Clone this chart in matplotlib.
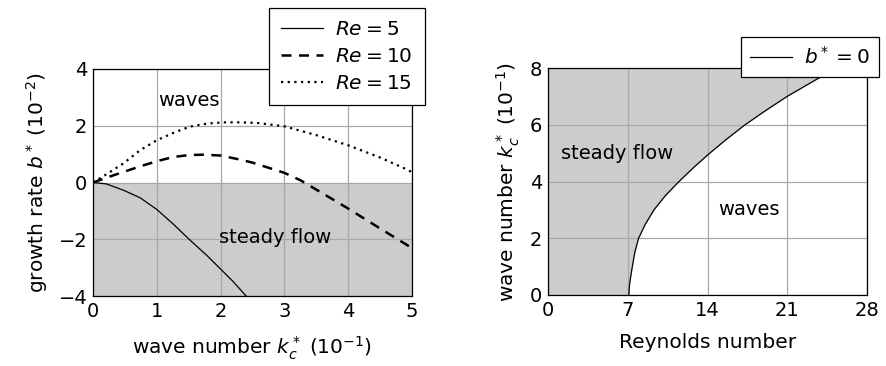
import matplotlib
matplotlib.use("Agg")
import matplotlib.pyplot as plt

# left panel: growth rate vs wave number
k_re5 = [0.0, 0.21, 0.475, 0.74, 1.0, 1.26, 1.52, 1.78, 2.0, 2.2, 2.4]
b_re5 = [0.0, -0.05, -0.27, -0.54, -0.95, -1.47, -2.03, -2.56, -3.05, -3.5, -4.0]
k_re10 = [0.0, 0.21, 0.475, 0.74, 1.0, 1.26, 1.52, 1.75, 2.0, 2.3, 2.5,
          3.0, 3.25, 3.5, 4.0, 4.5, 4.92, 5.0]
b_re10 = [0.0, 0.17, 0.37, 0.57, 0.75, 0.9, 0.97, 0.98, 0.95, 0.81, 0.7,
          0.34, 0.08, -0.25, -0.92, -1.62, -2.2, -2.32]
k_re15 = [0.0, 0.21, 0.475, 0.74, 1.0, 1.26, 1.52, 1.8, 2.05, 2.3, 2.57,
          3.0, 3.5, 4.0, 4.5, 4.92, 5.0]
b_re15 = [0.0, 0.29, 0.67, 1.14, 1.49, 1.75, 1.97, 2.08, 2.12, 2.12, 2.1,
          1.98, 1.67, 1.31, 0.88, 0.46, 0.36]

# right panel: neutral curve b* = 0
re_curve = [7.1, 7.13, 7.2, 7.4, 7.62, 7.95, 8.55, 9.3, 10.3, 11.5, 12.8,
            14.2, 15.7, 17.3, 19.1, 21.0, 24.0]
k_curve = [0.0, 0.25, 0.5, 1.0, 1.5, 2.0, 2.5, 3.0, 3.5, 4.0, 4.5,
           5.0, 5.5, 6.0, 6.5, 7.0, 7.7]

plt.rcParams["font.family"] = "DejaVu Sans"
plt.rcParams["mathtext.fontset"] = "dejavusans"
plt.rcParams["font.size"] = 14.5

grey = "#cccccc"
gridc = "#a8a8a8"

fig = plt.figure(figsize=(8.86, 3.66), dpi=100)
W, H = 886, 366
ax1 = fig.add_axes([93 / W, 1 - 296 / H, (412 - 93) / W, (296 - 69) / H])
ax2 = fig.add_axes([548 / W, 1 - 295 / H, (867 - 548) / W, (295 - 68) / H])

# left
ax1.axhspan(-4, 0, color=grey, zorder=0, lw=0)
ax1.plot(k_re5, b_re5, color="black", lw=0.9, label="$Re = 5$", zorder=3)
ax1.plot(k_re10, b_re10, color="black", lw=1.8, ls=(0, (4, 3)), label="$Re = 10$", zorder=3)
ax1.plot(k_re15, b_re15, color="black", lw=1.6, ls=(0, (1, 2)), label="$Re = 15$", zorder=3)
ax1.set_xlim(0, 5)
ax1.set_ylim(-4, 4)
ax1.set_xticks(range(0, 6))
ax1.set_yticks([-4, -2, 0, 2, 4])
ax1.set_yticklabels(["\u22124", "\u22122", "0", "2", "4"])
ax1.set_xlabel("wave number $k_c^*$ $(10^{-1})$", labelpad=10)
ax1.set_ylabel("growth rate $b^*$ $(10^{-2})$", labelpad=6)
ax1.text(1.5, 2.9, "waves", ha="center", va="center", fontsize=14)
ax1.text(2.85, -1.95, "steady flow", ha="center", va="center", fontsize=14)
leg1 = ax1.legend(loc="upper left", bbox_to_anchor=((269 - 93) / 319, (296 - 8) / 227),
                  frameon=True, fancybox=False, edgecolor="black", framealpha=1,
                  handlelength=2.1, handletextpad=0.6, borderpad=0.6,
                  labelspacing=0.4, borderaxespad=0, fontsize=14.5)
leg1.get_frame().set_linewidth(0.9)

# right
ax2.fill_betweenx(k_curve, 0, re_curve, color=grey, zorder=0, lw=0)
ax2.fill_between([0, 28], 7.7, 8, color=grey, zorder=0, lw=0)
ax2.plot(re_curve, k_curve, color="black", lw=0.9, label="$b^* = 0$", zorder=3)
ax2.set_xlim(0, 28)
ax2.set_ylim(0, 8)
ax2.set_xticks([0, 7, 14, 21, 28])
ax2.set_yticks([0, 2, 4, 6, 8])
ax2.set_xlabel("Reynolds number", labelpad=10)
ax2.set_ylabel("wave number $k_c^*$ $(10^{-1})$", labelpad=6)
ax2.text(6.05, 5.0, "steady flow", ha="center", va="center", fontsize=14)
ax2.text(17.6, 3.0, "waves", ha="center", va="center", fontsize=14)
leg2 = ax2.legend(loc="upper left", bbox_to_anchor=((741 - 548) / 319, (295 - 37) / 227),
                  frameon=True, fancybox=False, edgecolor="black", framealpha=1,
                  handlelength=2.1, handletextpad=0.6, borderpad=0.45,
                  borderaxespad=0, fontsize=14.5)
leg2.get_frame().set_linewidth(0.9)

for ax in (ax1, ax2):
    ax.grid(True, color=gridc, lw=0.9, zorder=1)
    ax.set_axisbelow(False)
    ax.tick_params(length=0, pad=4, labelsize=14)
    for s in ax.spines.values():
        s.set_linewidth(0.9)
        s.set_zorder(4)

fig.savefig("out.png", dpi=100)
